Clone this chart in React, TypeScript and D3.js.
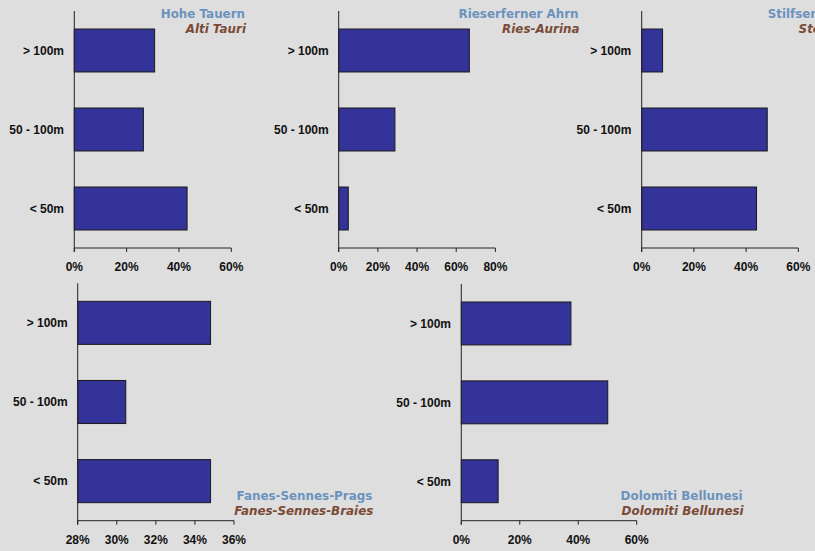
import React from "react";
import * as d3 from "d3";

const categories = ["> 100m", "50 - 100m", "< 50m"];
const hoheTauern = [30.7, 26.4, 43.1];
const rieserferner = [66.7, 28.7, 4.9];
const stilfserjoch = [8.0, 48.1, 44.0];
const fanesSennes = [34.8, 30.46, 34.8];
const dolomiti = [37.5, 50.1, 12.6];

const ticks60 = [0, 20, 40, 60];
const ticks80 = [0, 20, 40, 60, 80];
const ticksFanes = [28, 30, 32, 34, 36];

const panels = [
  { values: hoheTauern, title: "Hohe Tauern", sub: "Alti Tauri", domain: [0, 60], ticks: ticks60,
    x0: 74.3, w: 157, top: 11, bottom: 248, labelRight: 64, titleRight: 245, titleY: 17.5, subY: 33 },
  { values: rieserferner, title: "Rieserferner Ahrn", sub: "Ries-Aurina", domain: [0, 80], ticks: ticks80,
    x0: 338.7, w: 156.7, top: 11, bottom: 248, labelRight: 328.7, titleRight: 578.5, titleY: 17.5, subY: 33 },
  { values: stilfserjoch, title: "Stilfserjoch", sub: "Stelvio", domain: [0, 60], ticks: ticks60,
    x0: 641.7, w: 156.6, top: 11, bottom: 248, labelRight: 631.3, titleRight: 844, titleY: 17.5, subY: 33 },
  { values: fanesSennes, title: "Fanes-Sennes-Prags", sub: "Fanes-Sennes-Braies", domain: [28, 36], ticks: ticksFanes,
    x0: 77.7, w: 156.3, top: 283.3, bottom: 520.7, labelRight: 67.7, titleRight: 372.3, titleY: 499.8, subY: 515.2 },
  { values: dolomiti, title: "Dolomiti Bellunesi", sub: "Dolomiti Bellunesi", domain: [0, 60], ticks: ticks60,
    x0: 461.3, w: 175.4, top: 284, bottom: 520.7, labelRight: 451, titleRight: 742.7, titleY: 499.8, subY: 515.2 },
];

const labelFont = "'Liberation Sans', Arial, sans-serif";
const titleFont = "'DejaVu Sans', Verdana, sans-serif";

function Panel({ p }: { p: any }) {
  const x = d3.scaleLinear().domain(p.domain).range([p.x0, p.x0 + p.w]);
  const y = d3.scaleBand<string>().domain(categories).range([p.top, p.bottom]).paddingInner(0.456).paddingOuter(0.228);
  return (
    <g>
      {p.values.map((v: number, i: number) => (
        <rect key={i} x={x(p.domain[0])} y={y(categories[i])} width={x(v) - x(p.domain[0])} height={y.bandwidth()}
          fill="#333399" stroke="#1a1a1a" strokeWidth={1} />
      ))}
      <line x1={p.x0} x2={p.x0} y1={p.top} y2={p.bottom + 4} stroke="#222" strokeWidth={1} />
      <line x1={p.x0} x2={p.x0 + p.w} y1={p.bottom} y2={p.bottom} stroke="#222" strokeWidth={1} />
      {p.ticks.map((t: number) => (
        <g key={t}>
          <line x1={x(t)} x2={x(t)} y1={p.bottom} y2={p.bottom + 4} stroke="#222" strokeWidth={1} />
          <text x={x(t)} y={p.bottom + 23} textAnchor="middle" fontFamily={labelFont} fontWeight="bold" fontSize={12} fill="#111">
            {t + "%"}
          </text>
        </g>
      ))}
      {categories.map((c) => (
        <text key={c} x={p.labelRight} y={(y(c) as number) + y.bandwidth() / 2 + 4.3} textAnchor="end"
          fontFamily={labelFont} fontWeight="bold" fontSize={12} fill="#111">{c}</text>
      ))}
      <text x={p.titleRight} y={p.titleY} textAnchor="end" fontFamily={titleFont} fontWeight="bold" fontSize={11.9} fill="#6b93bd">{p.title}</text>
      <text x={p.titleRight + 1} y={p.subY} textAnchor="end" fontFamily={titleFont} fontWeight="bold" fontStyle="italic" fontSize={11.9} fill="#7a4a36">{p.sub}</text>
    </g>
  );
}

export default function App() {
  return (
    <svg width={815} height={551} style={{ position: "absolute", left: 0, top: 0, background: "#dedede" }}>
      <rect x={0} y={0} width={815} height={551} fill="#dedede" />
      {panels.map((p, i) => <Panel key={i} p={p} />)}
    </svg>
  );
}
